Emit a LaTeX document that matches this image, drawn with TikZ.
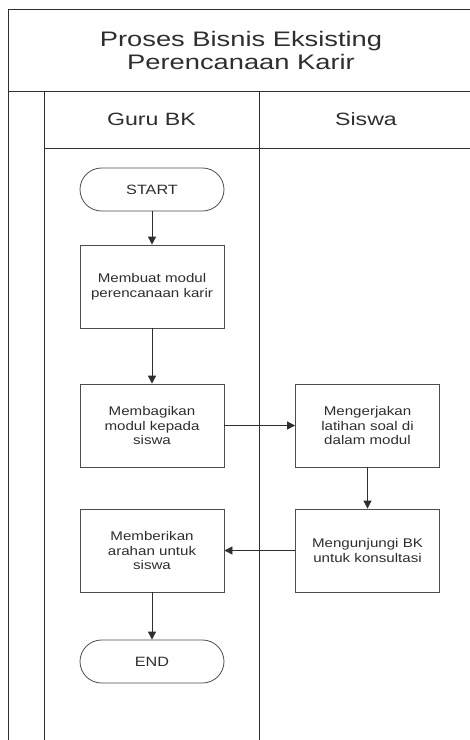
\documentclass[tikz,border=0pt]{standalone}
\usepackage{fontspec}
\setmainfont{Liberation Sans}
\newfontfamily\widetitle[FakeStretch=1.3]{Liberation Sans}
\newfontfamily\widelane[FakeStretch=1.3]{Liberation Sans}
\newfontfamily\widebox[FakeStretch=1.2]{Liberation Sans}
\usetikzlibrary{arrows.meta}
\definecolor{ink}{HTML}{2E2E2E}
\begin{document}
\begin{tikzpicture}[x=1pt,y=-1pt,
  frame/.style={draw=ink,line width=0.9pt},
  procbox/.style={draw=ink!85,line width=0.8pt,minimum width=144pt,minimum height=83pt,
    align=center,text=ink,font=\widebox\fontsize{12.6}{14.5}\selectfont,inner sep=2pt},
  termbox/.style={draw=ink!85,line width=0.8pt,rounded corners=21.5pt,minimum width=144pt,
    minimum height=43pt,text=ink,font=\widebox\fontsize{13.5}{15}\selectfont},
  flow/.style={draw=ink,line width=0.8pt,-{Triangle[length=8pt,width=8pt]}}]
\useasboundingbox (0,0) rectangle (470,740);
% swimlane frame
\draw[frame] (8,760) -- (8,9) -- (474,9) -- (474,760);
\draw[frame] (8,91) -- (474,91);
\draw[frame] (44,91) -- (44,760);
\draw[frame] (259,91) -- (259,760);
\draw[frame] (44,148) -- (474,148);
% titles
\node[text=ink,align=center,font=\widetitle\fontsize{21}{23}\selectfont] (title) at (241,50) {Proses Bisnis Eksisting\\Perencanaan Karir};
\node[text=ink,font=\widelane\fontsize{17.8}{19}\selectfont] (laneA) at (151.5,119) {Guru BK};
\node[text=ink,font=\widelane\fontsize{17.8}{19}\selectfont] (laneB) at (366,119) {Siswa};
% flow nodes
\node[termbox] (start) at (152,189.5) {START};
\node[procbox] (b1) at (152,286.5) {Membuat modul\\perencanaan karir};
\node[procbox] (b2) at (152,425.5) {Membagikan\\modul kepada\\siswa};
\node[procbox] (b3) at (367.5,425.5) {Mengerjakan\\latihan soal di\\dalam modul};
\node[procbox] (b4) at (367.5,550.5) {Mengunjungi BK\\untuk konsultasi};
\node[procbox] (b5) at (152,550.5) {Memberikan\\arahan untuk\\siswa};
\node[termbox] (stop) at (152,661.5) {END};
% connectors
\draw[flow] (start) -- (b1);
\draw[flow] (b1) -- (b2);
\draw[flow] (b2) -- (b3);
\draw[flow] (b3) -- (b4);
\draw[flow] (b4) -- (b5);
\draw[flow] (b5) -- (stop);
\end{tikzpicture}
\end{document}
